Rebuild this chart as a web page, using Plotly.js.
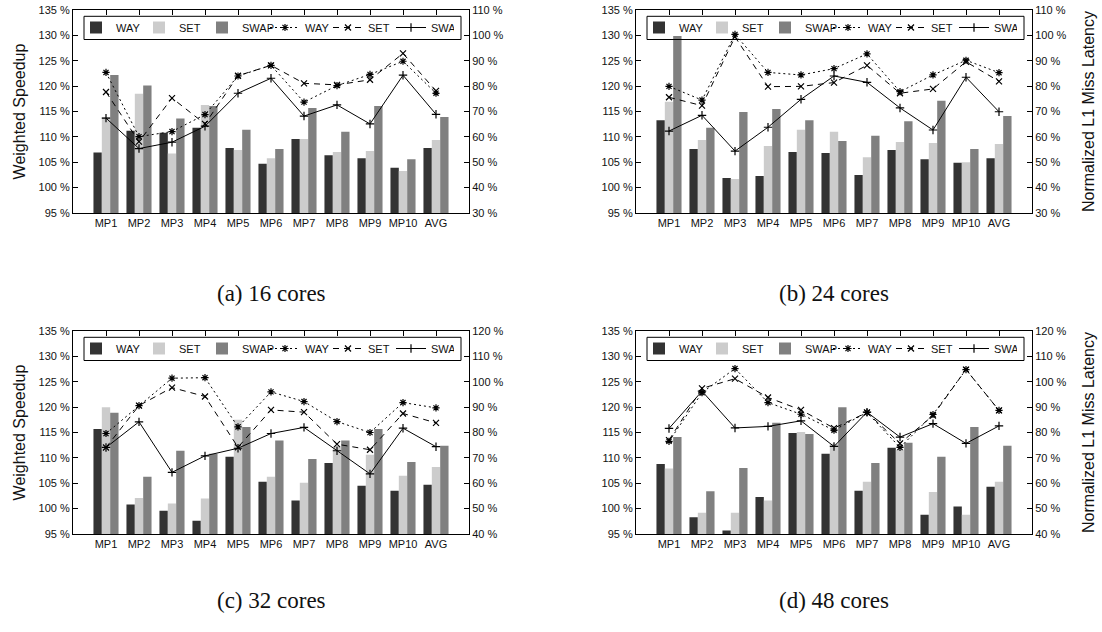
<!DOCTYPE html>
<html>
<head>
<meta charset="utf-8">
<script src="https://cdn.plot.ly/plotly-3.0.1.min.js"></script>
<style>html,body{margin:0;padding:0;background:#fff;}#chart{width:1102px;height:632px;}</style>
</head>
<body>
<div id="chart"></div>
<script>
// ---- data ----
const categories = ['MP1','MP2','MP3','MP4','MP5','MP6','MP7','MP8','MP9','MP10','AVG'];
const seriesNames = ['WAY','SET','SWAP'];
const captions = ['(a) 16 cores','(b) 24 cores','(c) 32 cores','(d) 48 cores'];
const leftTitle = 'Weighted Speedup';
const rightTitle = 'Normalized L1 Miss Latency';

// (a) 16 cores : weighted speedup (bars, %)
const speedupWayA  = [106.9,111.2,110.8,111.8,107.8,104.7,109.6,106.4,105.8,103.9,107.8];
const speedupSetA  = [113.9,118.5,106.7,116.3,107.4,105.8,109.6,107.0,107.2,103.3,109.4];
const speedupSwapA = [122.2,120.1,113.6,116.1,111.4,107.6,115.7,111.0,116.1,105.6,113.9];
// (a) normalized L1 miss latency (lines, %)
const latencyWayA  = [85.4,60.1,62.1,68.8,84.0,88.2,73.7,80.2,84.6,89.8,77.2];
const latencySetA  = [77.7,58.1,75.3,65.1,84.1,88.2,81.1,80.5,82.5,92.9,78.1];
const latencySwapA = [67.4,55.4,57.9,64.2,77.2,83.1,68.2,72.6,65.1,84.3,68.9];

// (b) 24 cores
const speedupWayB  = [113.3,107.6,101.9,102.3,107.0,106.8,102.5,107.4,105.6,104.9,105.8];
const speedupSetB  = [116.9,109.4,101.7,108.2,111.4,111.0,106.0,109.0,108.8,105.0,108.6];
const speedupSwapB = [129.9,111.8,114.9,115.5,113.3,109.2,110.2,113.1,117.1,107.6,114.1];
const latencyWayB  = [79.9,74.5,100.4,85.4,84.4,86.9,92.7,77.8,84.4,90.2,85.3];
const latencySetB  = [75.6,72.3,99.4,79.8,79.9,81.4,88.2,77.2,78.9,89.6,81.9];
const latencySwapB = [62.3,68.5,54.4,63.8,74.8,84.0,81.5,71.4,62.7,83.5,69.9];

// (c) 32 cores
const speedupWayC  = [115.7,100.8,99.6,97.6,110.2,105.3,101.6,109.0,104.5,103.5,104.7];
const speedupSetC  = [120.0,102.1,101.0,102.0,117.5,106.3,105.1,112.2,110.6,106.5,108.2];
const speedupSwapC = [118.9,106.3,111.4,110.8,116.1,113.4,109.8,113.4,115.7,109.2,112.4];
const latencyWayC  = [79.6,90.6,101.4,101.6,82.2,96.0,92.2,84.3,80.0,91.8,89.7];
const latencySetC  = [74.1,90.6,97.7,94.2,74.2,88.9,88.0,75.4,73.2,87.5,83.8];
const latencySwapC = [74.1,84.2,64.3,70.8,73.8,79.6,82.0,72.8,63.7,81.7,74.4];

// (d) 48 cores
const speedupWayD  = [108.8,98.3,95.7,102.3,114.9,110.8,103.5,112.0,98.8,100.4,104.3];
const speedupSetD  = [107.9,99.2,99.2,101.6,115.1,112.8,105.3,111.6,103.3,98.8,105.3];
const speedupSwapD = [114.1,103.4,108.0,116.9,114.7,120.0,109.0,113.0,110.2,116.1,112.4];
const latencyWayD  = [76.5,95.7,105.2,91.8,87.2,80.9,87.9,74.1,87.1,104.8,88.7];
const latencySetD  = [77.0,97.4,101.2,93.8,88.9,81.7,87.9,75.7,86.7,104.8,88.7];
const latencySwapD = [81.6,96.3,81.8,82.4,84.6,74.5,88.0,78.2,83.5,75.7,82.6];

const leftRange = [95, 135];
const rightRanges = [[30,110],[30,110],[40,120],[40,120]];

// ---- build ----
const panels = [
  {bars:[speedupWayA,speedupSetA,speedupSwapA], lines:[latencyWayA,latencySetA,latencySwapA]},
  {bars:[speedupWayB,speedupSetB,speedupSwapB], lines:[latencyWayB,latencySetB,latencySwapB]},
  {bars:[speedupWayC,speedupSetC,speedupSwapC], lines:[latencyWayC,latencySetC,latencySwapC]},
  {bars:[speedupWayD,speedupSetD,speedupSwapD], lines:[latencyWayD,latencySetD,latencySwapD]}
];

const W = 1102, H = 632;
const barColors = ['#333333','#cccccc','#808080'];
const lineDash = ['2px,3px','6px,5px','solid'];
const lineSymbols = ['asterisk-open','x-thin-open','cross-thin-open'];
// plot boxes in pixels [left, right, top, bottom]
const boxes = [[73,469,10,213],[636,1032,10,213],[73,469,331,534],[636,1032,331,534]];

const font = 'Liberation Sans, Arial, sans-serif';
const traces = [];
const layout = {
  width: W, height: H,
  margin: {l:0, r:0, t:0, b:0, autoexpand: false},
  paper_bgcolor: '#ffffff', plot_bgcolor: '#ffffff',
  barmode: 'group', bargap: 0.24, bargroupgap: 0,
  font: {family: font, size: 11, color: '#111'},
  annotations: [], shapes: []
};

panels.forEach((p, i) => {
  const n = i + 1;
  const xa = 'x' + (n === 1 ? '' : n);
  const yL = 'y' + (2*n - 1 === 1 ? '' : (2*n - 1));
  const yR = 'y' + (2*n);
  const lg = 'legend' + (n === 1 ? '' : n);
  const b = boxes[i];
  p.bars.forEach((vals, k) => {
    traces.push({type:'bar', x: categories, y: vals, name: seriesNames[k],
      xaxis: xa, yaxis: yL, legend: lg,
      marker: {color: barColors[k], line: {width: 0}}, hoverinfo: 'skip'});
  });
  p.lines.forEach((vals, k) => {
    traces.push({type:'scatter', mode:'lines+markers', x: categories, y: vals, name: seriesNames[k],
      xaxis: xa, yaxis: yR, legend: lg,
      line: {color:'#000', width: 1, dash: lineDash[k]},
      marker: {symbol: lineSymbols[k], size: 6, color:'#000', line:{color:'#000', width: 1.2}},
      hoverinfo: 'skip'});
  });
  const xdom = [b[0]/W, b[1]/W];
  const ydom = [1 - b[3]/H, 1 - b[2]/H];
  layout['xaxis' + (n === 1 ? '' : n)] = {
    domain: xdom, anchor: yL, type: 'category',
    categoryorder: 'array', categoryarray: categories, range: [-1, 11],
    showline: true, linecolor: '#000', linewidth: 1, mirror: 'ticks',
    ticks: 'inside', ticklen: 5, tickcolor: '#000', showgrid: false, tickangle: 0,
    tickfont: {size: 11, family: font, color: '#111'}, layer: 'below traces', fixedrange: true
  };
  layout['yaxis' + (2*n - 1 === 1 ? '' : (2*n - 1))] = {
    domain: ydom, anchor: xa, range: leftRange, dtick: 5, tick0: 95, ticksuffix: ' %',
    showline: true, linecolor: '#000', linewidth: 1, ticks: 'inside', ticklen: 5, tickcolor: '#000',
    showgrid: false, zeroline: false, tickfont: {size: 11, family: font, color: '#111'},
    title: {text: (i % 2 === 0) ? leftTitle : '', font: {size: 16, family: font, color: '#111'}, standoff: 8},
    fixedrange: true
  };
  layout['yaxis' + (2*n)] = {
    overlaying: yL, side: 'right', anchor: xa, range: rightRanges[i], dtick: 10, tick0: 0, ticksuffix: ' %',
    showline: true, linecolor: '#000', linewidth: 1, ticks: 'inside', ticklen: 5, tickcolor: '#000',
    showgrid: false, zeroline: false, tickfont: {size: 11, family: font, color: '#111'},
    title: {text: (i % 2 === 1) ? rightTitle : '', font: {size: 16, family: font, color: '#111'}, standoff: 17},
    fixedrange: true
  };
  layout[lg] = {
    orientation: 'h', x: (b[0] + 3)/W, y: 1 - (b[2] + 3)/H, xanchor: 'left', yanchor: 'top',
    borderwidth: 0, bgcolor: 'rgba(0,0,0,0)',
    font: {size: 11, family: font, color: '#111'}, itemwidth: 30, entrywidth: 18,
    tracegroupgap: 0
  };
  // key frame
  layout.shapes.push({
    type: 'rect', xref: 'paper', yref: 'paper', layer: 'above',
    x0: (b[0] + 11)/W, x1: (b[1] - 8)/W, y0: 1 - (b[2] + 29.5)/H, y1: 1 - (b[2] + 6.3)/H,
    line: {color: '#000', width: 1}, fillcolor: 'rgba(0,0,0,0)'
  });
  layout.annotations.push({
    text: captions[i], xref: 'paper', yref: 'paper', showarrow: false,
    x: (b[0] + b[1]) / 2 / W, y: 1 - (i < 2 ? 293 : 600) / H, xanchor: 'center', yanchor: 'middle',
    font: {family: 'Liberation Serif, DejaVu Serif, serif', size: 23, color: '#111'}
  });
});

Plotly.newPlot('chart', traces, layout, {displayModeBar: false, staticPlot: true});
</script>
</body>
</html>
